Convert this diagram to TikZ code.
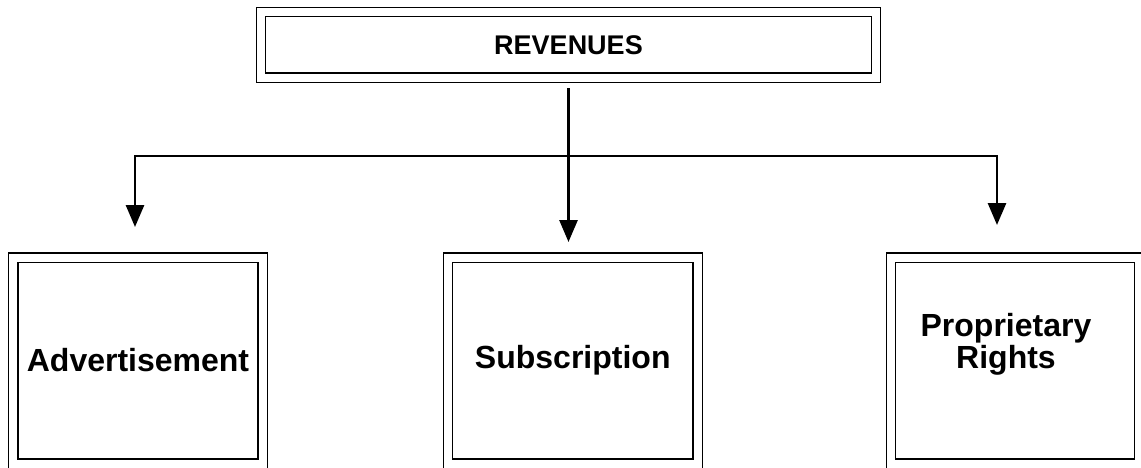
\documentclass[tikz,border=0pt]{standalone}
\usepackage{fontspec}
\setmainfont{Liberation Sans}
\usetikzlibrary{arrows.meta,positioning,calc}

\begin{document}
\begin{tikzpicture}[x=1pt,y=-1pt,>={Triangle[length=22pt,width=18pt]},
  frame/.style={draw,double,double distance=8pt,line width=1.4pt,outer sep=0pt,inner sep=0pt},
  label text/.style={font=\bfseries\fontsize{32}{32}\selectfont,align=center},
  link/.style={line width=2.8pt}]
  \clip (0,0) rectangle (1141,467);
  \node[frame,minimum width=615pt,minimum height=65.5pt,font=\bfseries\fontsize{27}{30}\selectfont] (rev) at (568.5,44.75) {REVENUES};
  \node[frame,label text,minimum width=249.5pt,minimum height=206pt] (adv) at (138,360.5) {Advertisement};
  \node[frame,label text,minimum width=249.5pt,minimum height=206pt] (sub) at (572.75,360.5) {Subscription};
  \node[frame,minimum width=248pt,minimum height=206pt] (prop) at (1015,360.5) {};
  \node[label text] (propname) at (1006,344) {Proprietary\\Rights};
  \coordinate (fork) at (rev.south |- 0,156);
  \draw[link,->,shorten <=10.5pt,shorten >=15.5pt] (rev.south) -- (rev.south |- sub.north);
  \draw[link,->,shorten >=30.5pt] (fork) -| ([xshift=-3pt]adv.north);
  \draw[link,->,shorten >=32.5pt] (fork) -| ([xshift=-18pt]prop.north);
\end{tikzpicture}
\end{document}
